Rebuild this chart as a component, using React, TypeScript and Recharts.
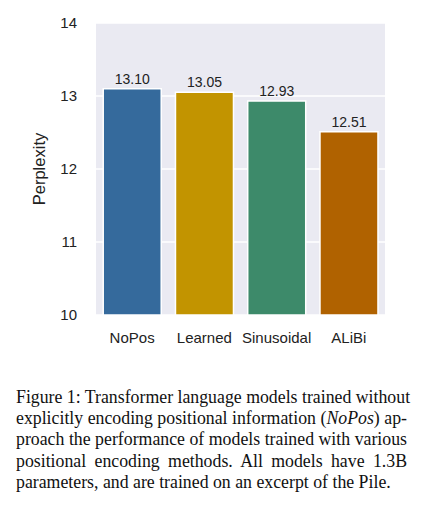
import React from 'react';
import { BarChart, Bar, XAxis, YAxis, CartesianGrid, Cell, LabelList } from 'recharts';

const methods = ['NoPos', 'Learned', 'Sinusoidal', 'ALiBi'];
const perplexity = [13.1, 13.05, 12.93, 12.51];
const barColors = ['#356a9c', '#c29400', '#3d8a6a', '#b06200'];
const yTicks = [10, 11, 12, 13, 14];
const captionLines = [
  'Figure 1: Transformer language models trained without',
  'explicitly encoding positional information (<i>NoPos</i>) ap-',
  'proach the performance of models trained with various',
  'positional encoding methods.  All models have 1.3B',
  'parameters, and are trained on an excerpt of the Pile.',
];

const data = methods.map((m, i) => ({ name: m, value: perplexity[i] }));

const sans = 'Liberation Sans, Arial, sans-serif';

export default function App() {
  return (
    <div style={{ position: 'absolute', left: 0, top: 0, width: 425, height: 512, background: '#fff' }}>
      <BarChart
        width={425}
        height={370}
        data={data}
        margin={{ top: 23, right: 40, left: 0, bottom: 0 }}
        barCategoryGap="10%"
      >
        <CartesianGrid vertical={false} fill="#EAEAF2" stroke="#ffffff" strokeWidth={1.5} />
        <XAxis
          dataKey="name"
          axisLine={false}
          tickLine={false}
          tickSize={0}
          tickMargin={17}
          height={55}
          tick={{ fill: '#222', fontSize: 15, fontFamily: sans }}
        />
        <YAxis
          domain={[10, 14]}
          ticks={yTicks}
          axisLine={false}
          tickLine={false}
          tickSize={0}
          tickMargin={19}
          width={96}
          tick={{ fill: '#222', fontSize: 15, fontFamily: sans }}
          label={{
            value: 'Perplexity',
            angle: -90,
            position: 'insideLeft',
            offset: 39,
            style: { textAnchor: 'middle', fill: '#222', fontSize: 16.5, fontFamily: sans },
          }}
        />
        <Bar dataKey="value" isAnimationActive={false} stroke="#ffffff" strokeWidth={1.5}>
          {data.map((d, i) => (
            <Cell key={d.name} fill={barColors[i]} />
          ))}
          <LabelList
            dataKey="value"
            position="top"
            offset={5}
            formatter={(v: number) => v.toFixed(2)}
            style={{ fill: '#222', fontSize: 14, fontFamily: sans }}
          />
        </Bar>
      </BarChart>
      <div
        style={{
          position: 'absolute',
          left: 16,
          top: 387,
          width: 391,
          fontFamily: '"Liberation Serif", "Times New Roman", serif',
          fontSize: 17.8,
          lineHeight: '21.2px',
          color: '#111',
        }}
      >
        {captionLines.map((line, i) => (
          <div
            key={i}
            style={{
              textAlign: 'justify',
              textAlignLast: i < captionLines.length - 1 ? 'justify' : 'left',
              whiteSpace: 'nowrap',
            }}
            dangerouslySetInnerHTML={{ __html: line }}
          />
        ))}
      </div>
    </div>
  );
}
